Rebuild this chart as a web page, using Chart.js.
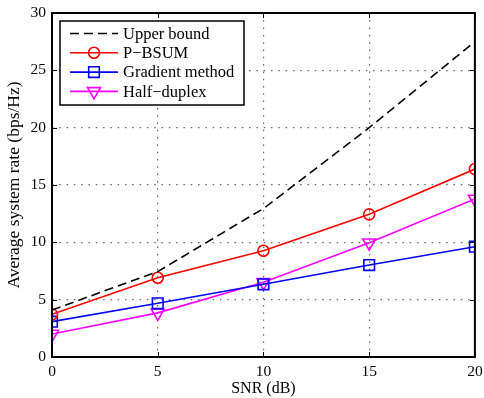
<!DOCTYPE html>
<html>
<head>
<meta charset="utf-8">
<script src="https://cdn.jsdelivr.net/npm/chart.js@4.4.0/dist/chart.umd.min.js"></script>
<style>
  html, body { margin: 0; padding: 0; background: #fff; }
  #wrap { width: 484px; height: 398px; }
</style>
</head>
<body>
<div id="wrap"><canvas id="myChart" width="484" height="398"></canvas></div>
<script>
var snr = [0, 5, 10, 15, 20];
var upperBound = [4.1, 7.45, 12.95, 20.0, 27.5];
var pBsum = [3.72, 6.91, 9.27, 12.44, 16.39];
var gradient = [3.08, 4.68, 6.34, 8.02, 9.62];
var halfDuplex = [2.0, 3.85, 6.51, 9.97, 13.78];
var yTicks = [0, 5, 10, 15, 20, 25, 30];

var serif = "'Liberation Serif', 'Times New Roman', serif";

function pts(arr) {
    return arr.map((v, i) => ({ x: snr[i], y: v }));
}

// box round the plot, with ticks pointing inward on all four sides
const frame = {
    id: 'frame',
    afterDatasetsDraw(chart) {
        const { ctx, chartArea: a, scales } = chart;
        ctx.save();
        ctx.strokeStyle = '#000';
        ctx.lineWidth = 1;
        ctx.beginPath();
        snr.forEach(v => {
            const x = Math.round(scales.x.getPixelForValue(v)) + 0.5;
            ctx.moveTo(x, a.bottom); ctx.lineTo(x, a.bottom - 5);
            ctx.moveTo(x, a.top); ctx.lineTo(x, a.top + 5);
        });
        yTicks.forEach(v => {
            const y = Math.round(scales.y.getPixelForValue(v)) + 0.5;
            ctx.moveTo(a.left, y); ctx.lineTo(a.left + 5, y);
            ctx.moveTo(a.right, y); ctx.lineTo(a.right - 5, y);
        });
        ctx.stroke();
        ctx.lineWidth = 2;
        ctx.strokeRect(a.left, a.top, a.right - a.left, a.bottom - a.top);
        ctx.restore();
    },
    afterDraw(chart) {
        // legend box inside the plot, top left
        const ctx = chart.ctx;
        const a = chart.chartArea;
        const bx = a.left + 8, by = a.top + 8, bw = 184, bh = 84;
        ctx.save();
        ctx.fillStyle = '#fff';
        ctx.fillRect(bx, by, bw, bh);
        ctx.lineWidth = 1.5;
        ctx.strokeStyle = '#000';
        ctx.strokeRect(bx, by, bw, bh);
        ctx.font = '16.5px ' + serif;
        ctx.textBaseline = 'middle';
        chart.data.datasets.forEach((ds, i) => {
            const y = by + 12.5 + i * 19.3;
            ctx.strokeStyle = ds.borderColor;
            ctx.lineWidth = ds.borderWidth;
            ctx.setLineDash(ds.borderDash || []);
            ctx.beginPath();
            ctx.moveTo(bx + 10, y);
            ctx.lineTo(bx + 58, y);
            ctx.stroke();
            ctx.setLineDash([]);
            if (ds.pointRadius > 0) {
                ctx.fillStyle = 'rgba(0,0,0,0)';
                ctx.lineWidth = ds.pointBorderWidth;
                Chart.helpers.drawPoint(ctx, {
                    pointStyle: ds.pointStyle,
                    rotation: ds.pointRotation || 0,
                    radius: ds.pointRadius,
                    borderWidth: ds.pointBorderWidth
                }, bx + 34, y);
            }
            ctx.fillStyle = '#000';
            ctx.fillText(ds.label, bx + 63, y + 1);
        });
        ctx.restore();
    }
};

const ctx = document.getElementById('myChart');

new Chart(ctx, {
    type: 'line',
    data: {
        datasets: [{
            label: 'Upper bound',
            data: pts(upperBound),
            borderColor: '#000',
            borderWidth: 1.6,
            borderDash: [9, 5],
            pointRadius: 0
        }, {
            label: 'P\u2212BSUM',
            data: pts(pBsum),
            borderColor: '#ff0000',
            borderWidth: 1.6,
            pointStyle: 'circle',
            pointRadius: 5.5,
            pointBorderWidth: 1.6,
            pointBackgroundColor: 'rgba(0,0,0,0)'
        }, {
            label: 'Gradient method',
            data: pts(gradient),
            borderColor: '#0000ff',
            borderWidth: 1.6,
            pointStyle: 'rect',
            pointRadius: 7.5,
            pointBorderWidth: 1.6,
            pointBackgroundColor: 'rgba(0,0,0,0)'
        }, {
            label: 'Half\u2212duplex',
            data: pts(halfDuplex),
            borderColor: '#ff00ff',
            borderWidth: 1.6,
            pointStyle: 'triangle',
            pointRotation: 180,
            pointRadius: 7.5,
            pointBorderWidth: 1.6,
            pointBackgroundColor: 'rgba(0,0,0,0)'
        }]
    },
    options: {
        responsive: false,
        animation: false,
        layout: { padding: { top: 13, right: 8, left: 0, bottom: 0 } },
        plugins: {
            legend: { display: false },
            tooltip: { enabled: false }
        },
        scales: {
            x: {
                type: 'linear',
                min: 0,
                max: 20,
                afterBuildTicks: s => { s.ticks = snr.map(v => ({ value: v })); },
                afterFit: s => { s.height = 41; s.paddingLeft = 0; s.paddingRight = 0; },
                grid: { color: '#666', lineWidth: 1.2, drawTicks: false },
                border: { display: false, dash: [1.5, 5.8] },
                ticks: { color: '#000', font: { family: serif, size: 15.5 }, padding: 6, maxRotation: 0 },
                title: { display: true, text: 'SNR (dB)', color: '#000', font: { family: serif, size: 16 }, padding: { top: 0, bottom: 0 } }
            },
            y: {
                min: 0,
                max: 30,
                afterBuildTicks: s => { s.ticks = yTicks.map(v => ({ value: v })); },
                afterFit: s => { s.width = 52; s.paddingTop = 0; s.paddingBottom = 0; },
                grid: { color: '#666', lineWidth: 1.2, drawTicks: false },
                border: { display: false, dash: [1.5, 5.8] },
                ticks: { color: '#000', font: { family: serif, size: 15.5 }, padding: 6 },
                title: { display: true, text: 'Average system rate (bps/Hz)', color: '#000', font: { family: serif, size: 17.5 }, padding: { top: 4, bottom: 0 } }
            }
        }
    },
    plugins: [frame]
});
</script>
</body>
</html>
